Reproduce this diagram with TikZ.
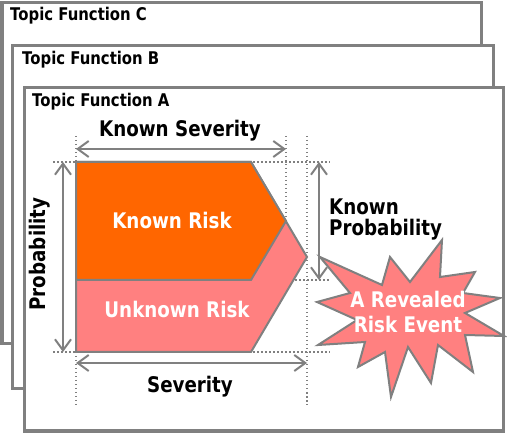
\documentclass[tikz,border=0pt]{standalone}
\usepackage{fontspec}
\setmainfont{DejaVu Sans}[FakeStretch=0.85]
\usetikzlibrary{arrows.meta, positioning}
\definecolor{framegray}{HTML}{808080}
\definecolor{knownorange}{HTML}{FF6600}
\definecolor{unknownpink}{HTML}{FF8080}

\begin{document}
\begin{tikzpicture}[x=1pt, y=-1pt,
  frame/.style={draw=framegray, line width=3pt, fill=white},
  title/.style={anchor=base west, inner sep=0pt, font=\bfseries\fontsize{17.5}{19}\selectfont},
  dimline/.style={draw=framegray, line width=2pt,
    {Straight Barb[length=11pt,width=16pt]}-{Straight Barb[length=11pt,width=16pt]}},
  guide/.style={draw=framegray, line width=1.5pt, dash pattern=on 1.5pt off 2.5pt},
  label/.style={inner sep=0pt, font=\bfseries\fontsize{21.5}{21}\selectfont},
  risklabel/.style={label, text=white},
  riskshape/.style={draw=framegray, line width=2pt}]
  \useasboundingbox (0,0) rectangle (507,433);

  % stacked topic frames
  \draw[frame] (2,3) rectangle (481,344);
  \node[title] (titleC) at (10,21) {Topic Function C};
  \draw[frame] (12,46) rectangle (493,389);
  \node[title] (titleB) at (22,65) {Topic Function B};
  \draw[frame] (24,88) rectangle (503,431);
  \node[title] (titleA) at (32,107) {Topic Function A};

  % guide lines
  \draw[guide] (76,136) -- (76,162);
  \draw[guide] (76,352) -- (76,405);
  \draw[guide] (286,136) -- (286,221);
  \draw[guide] (307,136) -- (307,405);
  \draw[guide] (53,162) -- (330,162);
  \draw[guide] (251,280) -- (330,280);
  \draw[guide] (53,352) -- (330,352);

  % risk areas
  \draw[riskshape, fill=unknownpink]
    (76,162) -- (251,162) -- (307,257) -- (251,352) -- (76,352) -- cycle;
  \draw[riskshape, fill=knownorange]
    (76,162) -- (251,162) -- (286,221) -- (251,280) -- (76,280) -- cycle;
  \node[risklabel, anchor=base] (known) at (172,229) {Known Risk};
  \node[risklabel, anchor=base] (unknown) at (177,318) {Unknown Risk};

  % dimension arrows
  \coordinate (ksL) at (76,149);
  \coordinate (ksR) at (286,149);
  \coordinate (sL) at (76,363);
  \coordinate (sR) at (307,363);
  \coordinate (pT) at (63,162);
  \coordinate (pB) at (63,352);
  \coordinate (kpT) at (319,162);
  \coordinate (kpB) at (319,280);
  \draw[dimline] (ksL) -- (ksR);
  \draw[dimline] (sL) -- (sR);
  \draw[dimline] (pT) -- (pB);
  \draw[dimline] (kpT) -- (kpB);
  \node[label, anchor=base] (knownsev) at (180,137) {Known Severity};
  \node[label, anchor=base] (severity) at (190,392) {Severity};
  \node[label, rotate=90] (prob) at (40,254) {Probability};
  \node[label, anchor=base west, align=left] (knownprob) at (329,236)
    {Known\\Probability};

  % revealed event
  \draw[riskshape, fill=unknownpink, line join=miter]
    (320,257) -- (382,285) -- (390,257) -- (410,282) -- (442,240) --
    (440,277) -- (475,272) -- (463,293) -- (500,298) -- (465,313) --
    (504,336) -- (465,335) -- (473,372) -- (438,345) -- (431,383) --
    (408,347) -- (391,397) -- (385,352) -- (358,367) -- (365,342) --
    (318,345) -- (357,320) -- (317,302) -- (350,293) -- cycle;
  \node[risklabel, align=center, anchor=base] (event) at (408,333)
    {A Revealed\\[4pt]Risk Event};
\end{tikzpicture}
\end{document}
